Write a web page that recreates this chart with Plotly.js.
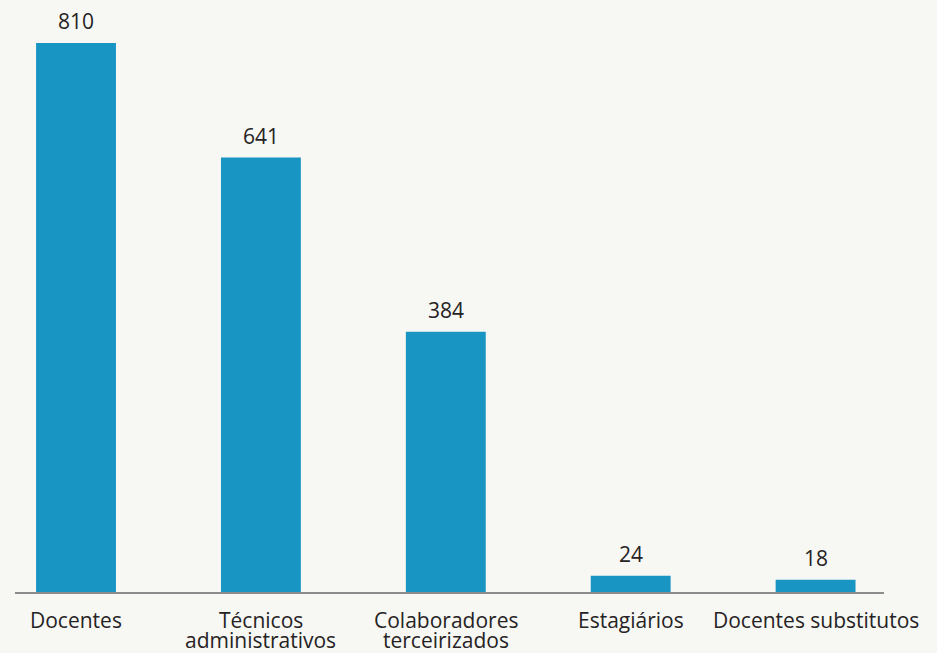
<!DOCTYPE html>
<html>
<head>
<meta charset="utf-8">
<script src="https://cdn.plot.ly/plotly-3.0.1.min.js"></script>
<style>
  html, body { margin: 0; padding: 0; background: #f7f7f3; }
  #chart { width: 937px; height: 653px; }
</style>
</head>
<body>
<div id="chart"></div>
<script>
const categories = ["Docentes", "Técnicos<br>administrativos", "Colaboradores<br>terceirizados", "Estagiários", "Docentes substitutos"];
const values = [810, 641, 384, 24, 18];
const valueLabels = ["810", "641", "384", "24", "18"];

const textColor = "#262324";
const fontFamily = "Open Sans, Lato, sans-serif";

const trace = {
  type: "bar",
  x: categories,
  y: values,
  marker: { color: "#1895c3" },
  hoverinfo: "skip"
};

const annotations = [];
categories.forEach((c, i) => {
  annotations.push({
    x: c,
    y: values[i],
    text: valueLabels[i],
    showarrow: false,
    yanchor: "bottom",
    yshift: 6,
    font: { family: fontFamily, size: 21, color: textColor, weight: 500 }
  });
  c.split("<br>").forEach((line, j) => {
    annotations.push({
      x: c,
      xref: "x",
      y: 0,
      yref: "paper",
      text: line,
      showarrow: false,
      yanchor: "middle",
      yshift: -(28 + 20 * j),
      font: { family: fontFamily, size: 21, color: textColor, weight: 500 }
    });
  });
});

const layout = {
  width: 937,
  height: 653,
  margin: { l: 15, r: 53, t: 20, b: 61 },
  paper_bgcolor: "#f7f7f3",
  plot_bgcolor: "#f7f7f3",
  bargap: 0.568,
  showlegend: false,
  xaxis: {
    type: "category",
    range: [-0.33, 4.37],
    showline: true,
    linecolor: "#8c8c8c",
    linewidth: 1.5,
    ticks: "",
    showticklabels: false,
    showgrid: false,
    zeroline: false
  },
  yaxis: {
    range: [0, 844],
    visible: false,
    showgrid: false,
    zeroline: false
  },
  annotations: annotations
};

Plotly.newPlot("chart", [trace], layout, { displayModeBar: false, staticPlot: true });
</script>
</body>
</html>
